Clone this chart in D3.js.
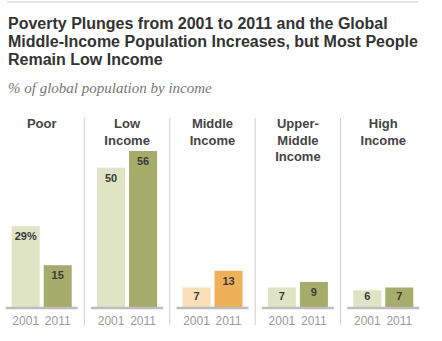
<!DOCTYPE html>
<html>
<head>
<meta charset="utf-8">
<script src="https://cdn.jsdelivr.net/npm/d3@7"></script>
<style>
  body { margin: 0; background: #fff; }
  svg { display: block; }
</style>
</head>
<body>
<div id="chart"></div>
<script>
var groups = ["Poor", "Low Income", "Middle Income", "Upper-Middle Income", "High Income"];
var groupLabels = [["Poor"], ["Low", "Income"], ["Middle", "Income"], ["Upper-", "Middle", "Income"], ["High", "Income"]];
var years = ["2001", "2011"];
var values2001 = [29, 50, 7, 7, 6];
var values2011 = [15, 56, 13, 9, 7];
var valueLabels2001 = ["29%", "50", "7", "7", "6"];
var valueLabels2011 = ["15", "56", "13", "9", "7"];

var width = 442, height = 341;
var base = 307;

var svg = d3.select("#chart").append("svg")
    .attr("width", width)
    .attr("height", height);

// header
svg.append("line")
    .attr("x1", 7).attr("x2", 418)
    .attr("y1", 2).attr("y2", 2)
    .attr("stroke", "#dcdcdc")
    .attr("stroke-width", 1.5);

var titleLines = ["Poverty Plunges from 2001 to 2011 and the Global",
                  "Middle-Income Population Increases, but Most People",
                  "Remain Low Income"];
svg.append("text")
    .attr("font-family", "'Liberation Sans', Arial, sans-serif")
    .attr("font-weight", "bold")
    .attr("font-size", "16px")
    .attr("fill", "#333")
    .selectAll("tspan")
    .data(titleLines)
    .enter().append("tspan")
        .attr("x", 8)
        .attr("y", function(d, i) { return 29 + i * 18; })
        .text(function(d) { return d; });

svg.append("text")
    .attr("x", 8).attr("y", 93)
    .attr("font-family", "'Liberation Serif', Georgia, serif")
    .attr("font-style", "italic")
    .attr("font-size", "15px")
    .attr("fill", "#777")
    .text("% of global population by income");

// scales
var xGroup = d3.scaleBand().domain(groups).range([-1, 426]);
var xYear = d3.scaleBand().domain(years).range([-30, 30]).paddingInner(0.125);
var y = d3.scaleLinear().domain([0, 56]).range([base, 151]);

var rows = groups.map(function(g, i) {
    return {
        group: g,
        lines: groupLabels[i],
        bars: [
            {year: "2001", value: values2001[i], label: valueLabels2001[i], fill: i == 2 ? "#fbdfb9" : "#dfe4c5"},
            {year: "2011", value: values2011[i], label: valueLabels2011[i], fill: i == 2 ? "#eeb15a" : "#a6ad6c"}
        ]
    };
});

var panel = svg.selectAll("g.panel")
    .data(rows)
    .enter().append("g")
        .attr("class", "panel")
        .attr("transform", function(d) { return "translate(" + (xGroup(d.group) + xGroup.bandwidth() / 2) + ",0)"; });

// dividers between panels
panel.filter(function(d, i) { return i > 0; })
    .append("line")
    .attr("x1", -xGroup.bandwidth() / 2).attr("x2", -xGroup.bandwidth() / 2)
    .attr("y1", 118).attr("y2", 325)
    .attr("stroke", "#cfcfcf")
    .attr("stroke-width", 1);

panel.append("text")
    .attr("text-anchor", "middle")
    .attr("font-family", "'Liberation Sans', Arial, sans-serif")
    .attr("font-weight", "bold")
    .attr("font-size", "13px")
    .attr("fill", "#444")
    .selectAll("tspan")
    .data(function(d) { return d.lines; })
    .enter().append("tspan")
        .attr("x", 0)
        .attr("y", function(d, i) { return 128 + i * 16.5; })
        .text(function(d) { return d; });

panel.selectAll("rect.bar")
    .data(function(d) { return d.bars; })
    .enter().append("rect")
        .attr("class", "bar")
        .attr("x", function(d) { return xYear(d.year); })
        .attr("width", xYear.bandwidth())
        .attr("y", function(d) { return y(d.value); })
        .attr("height", function(d) { return base - y(d.value); })
        .attr("fill", function(d) { return d.fill; });

panel.selectAll("text.value")
    .data(function(d) { return d.bars; })
    .enter().append("text")
        .attr("class", "value")
        .attr("x", function(d) { return xYear(d.year) + xYear.bandwidth() / 2; })
        .attr("y", function(d) { return Math.min(y(d.value) + 14, base - 7); })
        .attr("text-anchor", "middle")
        .attr("font-family", "'Liberation Sans', Arial, sans-serif")
        .attr("font-weight", "bold")
        .attr("font-size", "11px")
        .attr("fill", "#3a3a3a")
        .text(function(d) { return d.label; });

panel.append("line")
    .attr("x1", -36).attr("x2", 36)
    .attr("y1", base + 1).attr("y2", base + 1)
    .attr("stroke", "#bdbdbd")
    .attr("stroke-width", 2.5);

panel.selectAll("text.year")
    .data(years)
    .enter().append("text")
        .attr("class", "year")
        .attr("x", function(d) { return xYear(d) + xYear.bandwidth() / 2; })
        .attr("y", 325)
        .attr("text-anchor", "middle")
        .attr("font-family", "'Liberation Sans', Arial, sans-serif")
        .attr("font-size", "12px")
        .attr("fill", "#9a9a9a")
        .text(function(d) { return d; });
</script>
</body>
</html>
